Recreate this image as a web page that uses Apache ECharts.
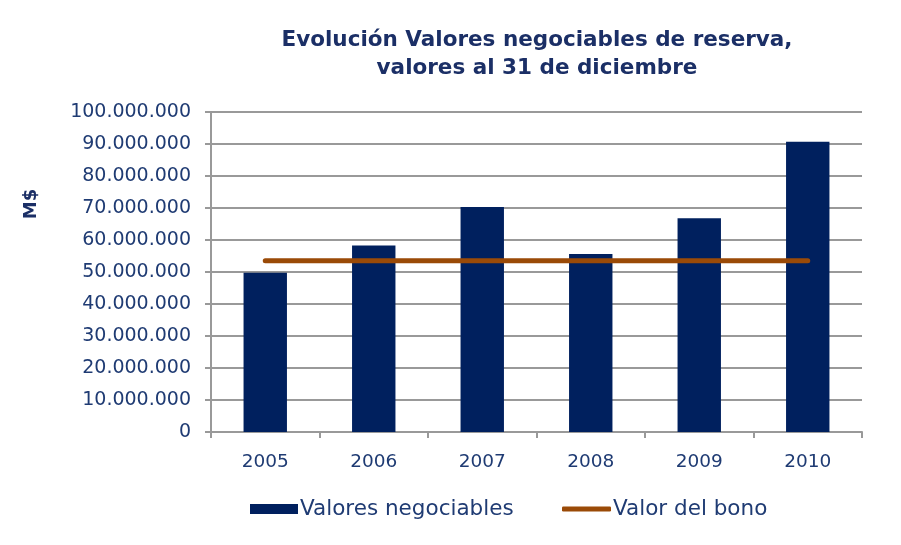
<!DOCTYPE html>
<html><head><meta charset="utf-8">
<script src="https://cdn.jsdelivr.net/npm/echarts@6/dist/echarts.min.js"></script>
<style>html,body{margin:0;padding:0;background:#fff}#c{width:901px;height:545px}</style>
</head><body><div id="c"></div>
<script>
var years = ['2005','2006','2007','2008','2009','2010'];
var valoresNegociables = [49800000, 58300000, 70300000, 55600000, 66800000, 90700000];
var valorDelBono = [53500000, 53500000, 53500000, 53500000, 53500000, 53500000];
var yTicks = {min: 0, max: 100000000, interval: 10000000};

var navy = '#1F3B73';
var chart = echarts.init(document.getElementById('c'));
function fmt(v){ return String(v).replace(/\B(?=(\d{3})+(?!\d))/g, '.'); }
chart.setOption({
  animation: false,
  title: {
    text: 'Evolución Valores negociables de reserva,\nvalores al 31 de diciembre',
    left: 532, top: 21, textAlign: 'center',
    textStyle: {fontFamily: 'DejaVu Sans', fontWeight: 'bold', fontSize: 21.5, color: '#1B2F66', lineHeight: 28}
  },
  graphic: [{
    type: 'text', x: 31, y: 204, rotation: Math.PI / 2,
    style: {text: 'M$', fontFamily: 'DejaVu Sans', fontWeight: 'bold', fontSize: 18, fill: '#1B2F66',
            align: 'center', verticalAlign: 'middle'}
  }],
  grid: {left: 211, right: 39, top: 112, bottom: 113},
  legend: [{
    top: 493, left: 245, itemWidth: 48, itemHeight: 10, itemGap: 0,
    textStyle: {fontFamily: 'DejaVu Sans', fontSize: 21.5, color: navy, padding: [0,0,0,-3]},
    data: [{name: 'Valores negociables', icon: 'rect'}]
  }, {
    top: 493, left: 557, itemWidth: 49, itemHeight: 5, itemGap: 0,
    textStyle: {fontFamily: 'DejaVu Sans', fontSize: 21.5, color: navy, padding: [0,0,0,-3]},
    data: [{name: 'Valor del bono', icon: 'roundRect'}]
  }],
  xAxis: {
    type: 'category', data: years,
    axisLine: {lineStyle: {color: '#999', width: 2}},
    axisTick: {show: true, length: 6, lineStyle: {color: '#999', width: 2}},
    axisLabel: {fontFamily: 'DejaVu Sans', fontSize: 18.5, color: navy, margin: 21}
  },
  yAxis: {
    type: 'value', min: yTicks.min, max: yTicks.max, interval: yTicks.interval,
    axisLine: {show: true, lineStyle: {color: '#999', width: 2}},
    axisTick: {show: true, length: 6, lineStyle: {color: '#999', width: 2}},
    splitLine: {lineStyle: {color: '#999', width: 2}},
    axisLabel: {fontFamily: 'DejaVu Sans', fontSize: 19, color: navy, margin: 20, formatter: fmt}
  },
  series: [
    {name: 'Valores negociables', type: 'bar', data: valoresNegociables, barWidth: '40%',
     itemStyle: {color: '#00205E'}},
    {name: 'Valor del bono', type: 'line', data: valorDelBono, symbol: 'none',
     lineStyle: {color: '#9A4A07', width: 5, cap: 'round'}, itemStyle: {color: '#9A4A07'}}
  ]
});
</script></body></html>
